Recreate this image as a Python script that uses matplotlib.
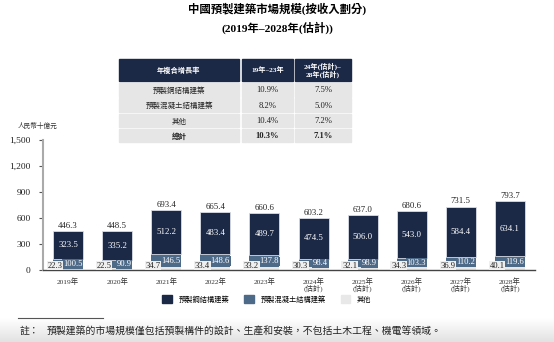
import matplotlib
matplotlib.use("Agg")
import matplotlib.pyplot as plt
import numpy as np
from matplotlib.patches import Rectangle

plt.rcParams['font.family'] = ['Liberation Serif', 'Noto Sans CJK TC', 'DejaVu Sans']

years = ["2019年", "2020年", "2021年", "2022年", "2023年",
         "2024年\n(估計)", "2025年\n(估計)", "2026年\n(估計)", "2027年\n(估計)", "2028年\n(估計)"]
others = [22.3, 22.5, 34.7, 33.4, 33.2, 30.3, 32.1, 34.3, 36.9, 40.1]
concrete = [100.5, 90.9, 146.5, 148.6, 137.8, 98.4, 98.9, 103.3, 110.2, 119.6]
steel = [323.5, 335.2, 512.2, 483.4, 489.7, 474.5, 506.0, 543.0, 584.4, 634.1]
totals = [446.3, 448.5, 693.4, 665.4, 660.6, 603.2, 637.0, 680.6, 731.5, 793.7]
series_names = ["預製鋼結構建築", "預製混凝土結構建築", "其他"]
yticks = [0, 300, 600, 900, 1200, 1500]

table_header = ["年複合增長率", "19年–23年", "24年(估計)–\n28年(估計)"]
table_rows = [["預製鋼結構建築", "10.9%", "7.5%"],
              ["預製混凝土結構建築", "8.2%", "5.0%"],
              ["其他", "10.4%", "7.2%"],
              ["總計", "10.3%", "7.1%"]]

C_STEEL = "#1b2947"
C_CONC = "#4e6a89"
C_OTH = "#e8e8e8"

W, H = 554, 342
fig = plt.figure(figsize=(W / 100, H / 100), dpi=100)

# overlay in pixel coords
ov = fig.add_axes([0, 0, 1, 1])
grad = np.linspace(0, 1, 50).reshape(-1, 1)
ov.imshow(grad, extent=(0, W, H, 318), cmap=matplotlib.colors.LinearSegmentedColormap.from_list(
    "g", ["#ffffff", "#e2e2e2"]), aspect='auto', zorder=0)
ov.set_xlim(0, W)
ov.set_ylim(H, 0)
ov.axis('off')

# title
ov.text(277, 9, "中國預製建築市場規模(按收入劃分)", ha='center', va='center', fontsize=8.2, fontweight='bold')
ov.text(277, 28, "(2019年–2028年(估計))", ha='center', va='center', fontsize=8.2, fontweight='bold')

# table
cols = [(119, 239), (242, 293), (295, 351)]
rows_y = [(59, 81), (83, 97), (98, 112), (114, 127), (129, 142)]
for ci, (x0, x1) in enumerate(cols):
    y0, y1 = rows_y[0]
    ov.add_patch(Rectangle((x0, y0), x1 - x0, y1 - y0, color=C_STEEL, zorder=1))
    ov.text((x0 + x1) / 2, (y0 + y1) / 2, table_header[ci], ha='center', va='center',
            fontsize=5.2, color='white', fontweight='bold', linespacing=1.0, zorder=2)
    for ri, row in enumerate(table_rows):
        y0, y1 = rows_y[ri + 1]
        ov.add_patch(Rectangle((x0, y0), x1 - x0, y1 - y0, color="#e6e6e6", zorder=1))
        ov.text((x0 + x1) / 2, (y0 + y1) / 2 + 0.5, row[ci], ha='center', va='center',
                fontsize=6.2 if ci else 5.4, color='#222222',
                fontweight='bold' if ri == 3 else 'normal', zorder=2)

# y unit label
ov.text(18, 125, "人民幣十億元", ha='left', va='center', fontsize=4.8, color='#333333')

# footnote
ov.plot([18, 103], [318, 318], color='#555555', lw=0.8)
ov.text(20, 331, "註：", ha='left', va='center', fontsize=7.1, color='#222222')
ov.text(47, 331, "預製建築的市場規模僅包括預製構件的設計、生產和安裝，不包括土木工程、機電等領域。",
        ha='left', va='center', fontsize=7.1, color='#222222')

# main axes
left, right = 43, 535
top, bottom = 140, 270
ax = fig.add_axes([left / W, 1 - bottom / H, (right - left) / W, (bottom - top) / H])
ax.patch.set_alpha(0)
x = np.arange(len(years))
bw = 0.61
ax.bar(x, others, bw, color=C_OTH, label=series_names[2], zorder=2)
ax.bar(x, concrete, bw, bottom=others, color=C_CONC, label=series_names[1], zorder=2)
bot2 = np.array(others) + np.array(concrete)
ax.bar(x, steel, bw, bottom=bot2, color=C_STEEL, label=series_names[0], zorder=2,
       edgecolor='#d8dde5', linewidth=0.6)

for i in range(len(years)):
    ax.text(x[i], totals[i] + 14, f"{totals[i]:.1f}", ha='center', va='bottom', fontsize=6.3, color='#222222')
    ax.text(x[i], bot2[i] + steel[i] / 2, f"{steel[i]:.1f}", ha='center', va='center', fontsize=6.3,
            color='white', zorder=4)
    yc = others[i] + concrete[i] / 2
    ax.text(x[i] + bw / 2 - 0.01, yc - 3, f"{concrete[i]:.1f}", ha='right', va='center', fontsize=6.2,
            color='white', zorder=5,
            bbox=dict(boxstyle='square,pad=0.08', fc=C_CONC, ec='none'))
    ax.text(x[i] - bw / 2 + 0.04, 50, f"{others[i]:.1f}", ha='center', va='center', fontsize=6.2,
            color='#222222', zorder=5,
            bbox=dict(boxstyle='square,pad=0.08', fc='#efefef', ec='none'))

ax.set_xlim(-0.51, 9.51)
ax.set_ylim(0, 1500)
ax.set_yticks(yticks)
ax.set_yticklabels([f"{v:,}" for v in yticks], fontsize=6.8, color='#222222')
ax.set_xticks(x)
ax.set_xticklabels(years, fontsize=5.3, color='#333333', linespacing=1.0)
ax.tick_params(axis='x', length=0, pad=5)
ax.tick_params(axis='y', length=3, width=0.8, color='#555555', pad=6)
for s in ['top', 'right']:
    ax.spines[s].set_visible(False)
ax.spines['left'].set_color('#aaaaaa')
ax.spines['left'].set_linewidth(1.5)
ax.spines['bottom'].set_color('#444444')
ax.spines['bottom'].set_linewidth(1.0)

handles = [Rectangle((0, 0), 1, 1, color=C_STEEL), Rectangle((0, 0), 1, 1, color=C_CONC),
           Rectangle((0, 0), 1, 1, color=C_OTH)]
fig.legend(handles, series_names, loc='center', bbox_to_anchor=(267 / W, 1 - 299 / H), ncol=3,
           frameon=False, fontsize=5.2, handlelength=1.3, handleheight=1.3, columnspacing=2.0,
           handletextpad=1.0)

fig.savefig("out.png", dpi=100)
